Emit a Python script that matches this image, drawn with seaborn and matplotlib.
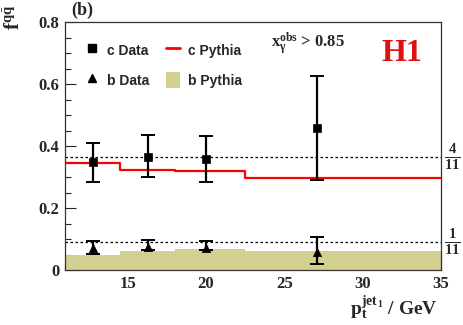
import numpy as np
import pandas as pd
import matplotlib
matplotlib.use("Agg")
import matplotlib.pyplot as plt
import seaborn as sns
from matplotlib.patches import Patch
from matplotlib.lines import Line2D

# data
pt_data = [12.8, 16.3, 20.0, 27.1]
c_data = [0.349, 0.366, 0.358, 0.457]
c_err_up = [0.061, 0.069, 0.075, 0.169]
c_err_dn = [0.064, 0.066, 0.075, 0.167]
b_data = [0.072, 0.075, 0.072, 0.059]
b_err_up = [0.023, 0.022, 0.023, 0.048]
b_err_dn = [0.020, 0.010, 0.006, 0.040]
bin_edges = [11, 14.5, 18.0, 22.5, 35]
c_pythia = [0.344, 0.323, 0.320, 0.298]
b_pythia = [0.048, 0.061, 0.067, 0.061]
x_ticks = [15, 20, 25, 30, 35]
y_ticks = [0, 0.2, 0.4, 0.6, 0.8]
y_ticklabels = ["0", "0.2", "0.4", "0.6", "0.8"]

sns.set_style("ticks")
plt.rcParams['font.family'] = ['Liberation Serif', 'DejaVu Serif']
plt.rcParams['mathtext.fontset'] = 'custom'
plt.rcParams['mathtext.rm'] = 'Liberation Serif'
plt.rcParams['mathtext.it'] = 'Liberation Serif:italic'
plt.rcParams['mathtext.bf'] = 'Liberation Serif:bold'

fig = plt.figure(figsize=(4.63, 3.25), dpi=100)
ax = fig.add_axes([0.1404, 0.1692, 0.9525 - 0.1404, 0.9323 - 0.1692])

khaki = "#d3cf8e"
# b Pythia filled step
xs = np.array(bin_edges)
ys_b = np.array(b_pythia + [b_pythia[-1]])
ax.fill_between(xs, 0, ys_b, step="post", color=khaki, lw=0, zorder=1)

# c Pythia step line
dfc = pd.DataFrame({"x": bin_edges, "y": c_pythia + [c_pythia[-1]]})
sns.lineplot(data=dfc, x="x", y="y", drawstyle="steps-post", color="#ff0000", lw=1.6, ax=ax, zorder=2)

# reference dashed lines
ax.axhline(4/11, color="black", ls=(0, (2, 2)), lw=0.9, zorder=2)
ax.axhline(1/11, color="black", ls=(0, (2, 2)), lw=0.9, zorder=2)

# data points
ax.errorbar(pt_data, c_data, yerr=[c_err_dn, c_err_up], fmt="none", ecolor="black",
            elinewidth=1.6, capsize=5, capthick=1.4, zorder=3)
ax.errorbar(pt_data, b_data, yerr=[b_err_dn, b_err_up], fmt="none", ecolor="black",
            elinewidth=1.6, capsize=5, capthick=1.4, zorder=3)
sns.scatterplot(x=pt_data, y=c_data, marker="s", s=36, color="black", edgecolor="black", ax=ax, zorder=4)
sns.scatterplot(x=pt_data, y=b_data, marker="^", s=36, color="black", edgecolor="black", ax=ax, zorder=4)

ax.set_xlim(11, 35)
ax.set_ylim(0, 0.8)
ax.set_xticks(x_ticks)
ax.set_yticks(y_ticks)
ax.set_yticklabels(y_ticklabels)
ax.set_xticks(np.arange(11, 36, 1), minor=True)
ax.set_yticks(np.arange(0, 0.81, 0.05), minor=True)
ax.tick_params(which="both", direction="in", top=False, right=False)
ax.tick_params(which="major", length=8, width=0.8, labelsize=12, pad=4)
ax.tick_params(which="minor", length=4.5, width=0.8)
for lab in ax.get_xticklabels() + ax.get_yticklabels():
    lab.set_fontweight("bold")
for sp in ax.spines.values():
    sp.set_visible(True)
    sp.set_color("#333333")
    sp.set_linewidth(0.9)
ax.set_xlabel("")
ax.set_ylabel("")

# legend (manual)
handles = [
    Line2D([], [], marker="s", color="black", ls="none", markersize=6),
    Line2D([], [], marker="^", color="black", ls="none", markersize=6),
    Line2D([], [], color="#ff0000", lw=2),
    Patch(facecolor=khaki, edgecolor="none"),
]
labels = ["c Data", "b Data", "c Pythia", "b Pythia"]
leg = ax.legend(handles, labels, ncol=2, loc="upper left", bbox_to_anchor=(0.02, 0.97),
                frameon=False, handlelength=1.0, handleheight=1.4, handletextpad=0.6,
                columnspacing=1.2, labelspacing=1.0,
                prop={"family": "Liberation Sans", "weight": "bold", "size": 10})

ax.text(0.548, 0.911, r"$\mathbf{x_{\gamma}^{obs}}$ > 0.85", transform=ax.transAxes,
        fontsize=12, fontweight="bold", ha="left", va="center")
ax.text(0.896, 0.875, "H1", transform=ax.transAxes, color="#e01010", fontsize=23,
        fontweight="bold", ha="center", va="center")

# fractions on right
fig.text(0.977, 0.517, r"$\mathbf{\frac{4}{11}}$", fontsize=15, ha="center", va="center")
fig.text(0.977, 0.255, r"$\mathbf{\frac{1}{11}}$", fontsize=15, ha="center", va="center")

fig.text(0.177, 0.995, "(b)", fontsize=13, fontweight="bold", ha="center", va="top")
fig.text(0.032, 0.985, r"$\mathbf{f^{q\bar{q}}}$", fontsize=15, rotation=90, ha="center", va="top")
fig.text(0.85, 0.031, r"$\mathbf{p_t^{jet_{\,1}}}$ / GeV", fontsize=14, fontweight="bold",
         ha="center", va="baseline")

fig.savefig("out.png", dpi=100)
